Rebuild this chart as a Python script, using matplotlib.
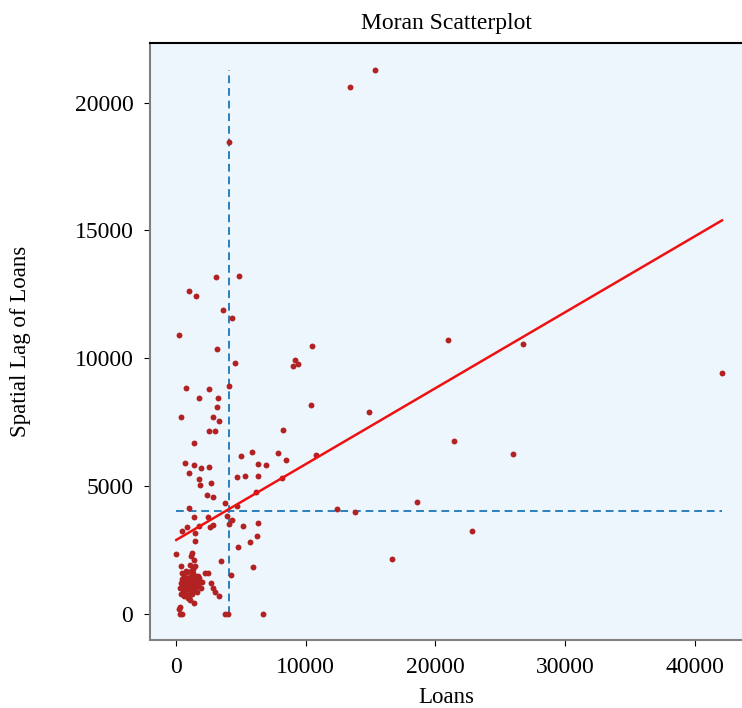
import matplotlib
matplotlib.use("Agg")
import matplotlib.pyplot as plt
import numpy as np

# ---- data ----
loans = [
    # dense cluster near the origin
    350, 450, 500, 550, 600, 650, 700, 750, 800, 850, 900, 950, 1000, 1050, 1100,
    1150, 1200, 1250, 1300, 1350, 1400, 1450, 1500, 1550, 1600, 1650, 1700, 1800,
    1900, 2000, 400, 300, 600, 1000, 1200, 1300, 800, 500, 1700, 2200, 2500, 2700,
    2850, 2980, 3290, 930, 1050, 1390, 280, 210, 280, 460, 3800, 4010, 6730, 870,
    1180, 1310, 360, 1050, 1440, 20, 1230, 1130, 1390, 3490, 4220, 5960,
    # mid range
    490, 850, 1440, 1440, 1800, 2620, 2880, 4090, 4290, 3960, 2490, 1410, 1030,
    3750, 4730, 5140, 6350, 6270, 5680, 4800, 2360, 2830, 1870, 2700, 6170, 8150,
    12450, 13790, 18610, 22860, 16690, 1800, 1030, 4680, 5340, 6350, 690, 1410,
    1950, 2540, 6350, 6940, 5010, 5880, 7860, 8480, 10800, 1410, 2540, 3030, 8270,
    360, 2880, 3340, 3160, 10410, 1750, 3210, 770, 2540, 4090, 4550, 9040, 9410,
    9200, 3160, 10460, 230, 4340, 3620, 980, 1570, 3110, 4880, 4090, 13380, 15380,
    20940, 26790, 42100, 14900, 21400, 25960,
]
spatial_lag = [
    1200, 1000, 1350, 850, 1100, 1500, 900, 1250, 1050, 1400, 750, 1150, 1300, 950,
    1450, 1100, 800, 1250, 1000, 1350, 1150, 900, 1500, 1050, 1250, 850, 1150, 1400,
    1000, 1250, 800, 1000, 700, 650, 1600, 1750, 1700, 1600, 1500, 1600, 1620, 1200,
    1000, 870, 700, 610, 550, 420, 290, 180, 0, 0, 0, 0, 0, 1650,
    1690, 1590, 1880, 1920, 1880, 2350, 2370, 2270, 2110, 2080, 1520, 1830,
    3240, 3400, 3170, 2850, 3440, 3420, 3480, 3510, 3680, 3830, 3780, 3810, 4150,
    4330, 4220, 3430, 3570, 3050, 2830, 2620, 4670, 4590, 5030, 5110, 4760, 5310,
    4120, 4000, 4380, 3250, 2140, 5270, 5500, 5370, 5390, 5400, 5900, 5840,
    5700, 5740, 5870, 5830, 6170, 6340, 6300, 6040, 6230, 6700, 7150, 7150, 7210,
    7690, 7720, 7550, 8100, 8190, 8440, 8440, 8830, 8800, 8930, 9820, 9680, 9780,
    9950, 10350, 10480, 10920, 11560, 11900, 12640, 12440, 13180, 13220, 18460, 20620, 21260,
    10700, 10540, 9430, 7910, 6750, 6270,
]
loans_mean = 4050
lag_mean = 4030
fit_slope = 0.297
fit_intercept = 2890

title = "Moran Scatterplot"
xlabel = "Loans"
ylabel = "Spatial Lag of Loans"

# ---- figure ----
plt.rcParams['font.family'] = ['Liberation Serif', 'DejaVu Serif']
fig = plt.figure(figsize=(7.42, 7.08), dpi=100)
ax = fig.add_axes([150/742, 68/708, 1 - 150/742, (640-43)/708])
ax.set_facecolor('#eef6fd')

x = np.array(loans, dtype=float)
y = np.array(spatial_lag, dtype=float)

ax.scatter(x, y, s=18, color='#b22222', zorder=3, linewidths=0)

xs = np.array([x.min(), x.max()])
ax.plot(xs, fit_intercept + fit_slope * xs, color='#ee1111', lw=1.8, zorder=4)

ax.plot([loans_mean, loans_mean], [y.min(), y.max()], ls=(0, (4, 2.5)),
        color='#2a7fba', lw=1.4, zorder=2)
ax.plot([x.min(), x.max()], [lag_mean, lag_mean], ls=(0, (4, 2.5)),
        color='#2a7fba', lw=1.4, zorder=2)

ax.set_xlim(-2005, 43640)
ax.set_ylim(-1017, 22330)
ax.set_xticks([0, 10000, 20000, 30000, 40000])
ax.set_yticks([0, 5000, 10000, 15000, 20000])
ax.tick_params(labelsize=17, length=4, width=0.8, pad=8)

ax.spines['right'].set_visible(False)
ax.spines['top'].set_color('black')
ax.spines['top'].set_linewidth(1.5)
for s in ('left', 'bottom'):
    ax.spines[s].set_color('#808080')
    ax.spines[s].set_linewidth(1.5)

ax.set_title(title, fontsize=17, pad=10)
ax.set_xlabel(xlabel, fontsize=16.5, labelpad=7)
ax.set_ylabel(ylabel, fontsize=16.5, labelpad=31)

fig.savefig("out.png", dpi=100)
